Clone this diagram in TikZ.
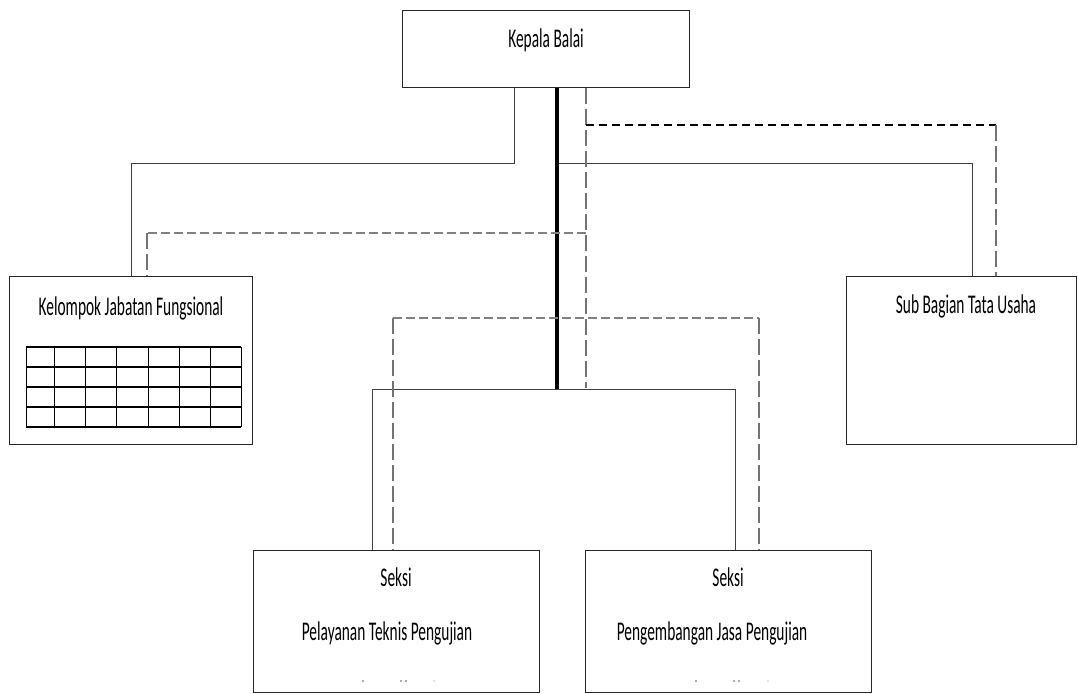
\documentclass[tikz,border=0pt]{standalone}
\usepackage{fontspec}
\newfontfamily\orgfont[FakeStretch=0.57]{Carlito}
\begin{document}
\begin{tikzpicture}[x=1pt,y=-1pt,
  box/.style={draw=black!85,line width=1.3pt,fill=white,inner sep=0pt,anchor=north west},
  lbl/.style={font=\orgfont\fontsize{27}{30}\selectfont,anchor=base,inner sep=0pt},
  link/.style={draw=black!75,line width=1pt},
  spine/.style={draw=black,line width=4pt},
  dashk/.style={draw=black,line width=1.3pt,dash pattern=on 8pt off 5pt},
  dashg/.style={draw=black!50,line width=2pt,dash pattern=on 9pt off 4pt},
  dashv/.style={draw=black!55,line width=1.2pt,dash pattern=on 16pt off 5pt},
  grid/.style={draw=black,line width=0.9pt},
  gridrow/.style={draw=black,line width=1.8pt},
]
\useasboundingbox (0,0) rectangle (1078,693);

% boxes
\node[box,minimum width=287pt,minimum height=77pt] (kb) at (402,10) {};
\node[box,minimum width=243pt,minimum height=168pt] (kfg) at (9,276) {};
\node[box,minimum width=230pt,minimum height=168pt] (sbtu) at (846,276) {};
\node[box,minimum width=286pt,minimum height=142pt] (s1) at (253,550) {};
\node[box,minimum width=286pt,minimum height=142pt] (s2) at (585,550) {};

% labels
\node[lbl] (kbt) at (546,48) {Kepala Balai};
\node[lbl] (kfgt) at (131,315) {Kelompok Jabatan Fungsional};
\node[lbl] (sbtut) at (966,313) {Sub Bagian Tata Usaha};
\node[lbl] (s1a) at (396,586) {Seksi};
\node[lbl] (s1b) at (387,640) {Pelayanan Teknis Pengujian};
\node[lbl] (s2a) at (728,586) {Seksi};
\node[lbl] (s2b) at (712,640) {Pengembangan Jasa Pengujian};

% small marks at the foot of the section boxes
\foreach \x in {363,401,406} \fill[black!65] (\x,681) circle (0.9pt);
\foreach \x in {696,734,739} \fill[black!65] (\x,681) circle (0.9pt);
\fill[black!20] (434,681) circle (0.8pt);
\fill[black!20] (768,681) circle (0.8pt);

% table inside the functional group box
\foreach \x in {26,54,85,116,148,179,210,241} \draw[grid] (\x,347) -- (\x,427);
\foreach \y in {347,367,387,407,427} \draw[gridrow] (26,\y) -- (241,\y);

% bend points
\coordinate (p1) at (514,163);
\coordinate (p2) at (131,163);
\coordinate (p3) at (557,163);
\coordinate (p4) at (972,163);
\coordinate (sp) at (557,389);
\coordinate (q1) at (372,389);
\coordinate (q2) at (735,389);
\coordinate (d0) at (586,388);
\coordinate (d1) at (586,125);
\coordinate (d2) at (996,125);
\coordinate (d3) at (586,233);
\coordinate (d4) at (147,233);
\coordinate (d5) at (393,318);
\coordinate (d6) at (759,318);

% solid lines of command
\draw[link] (kb.south -| p1) -- (p1) -- (p2) -- (kfg.north -| p2);
\draw[link] (p3) -- (p4) -- (sbtu.north -| p4);
\draw[link] (s1.north -| q1) -- (q1) -- (q2) -- (s2.north -| q2);
\draw[spine] (kb.south -| sp) -- (sp);

% dashed lines of coordination
\draw[dashv] (kb.south -| d0) -- (d0);
\draw[dashk] (d1) -- (d2);
\draw[dashv] (d2) -- (sbtu.north -| d2);
\draw[dashg] (d3) -- (d4);
\draw[dashv] (d4) -- (kfg.north -| d4);
\draw[dashg] (d5) -- (d6);
\draw[dashv] (d5) -- (s1.north -| d5);
\draw[dashv] (d6) -- (s2.north -| d6);
\end{tikzpicture}
\end{document}
